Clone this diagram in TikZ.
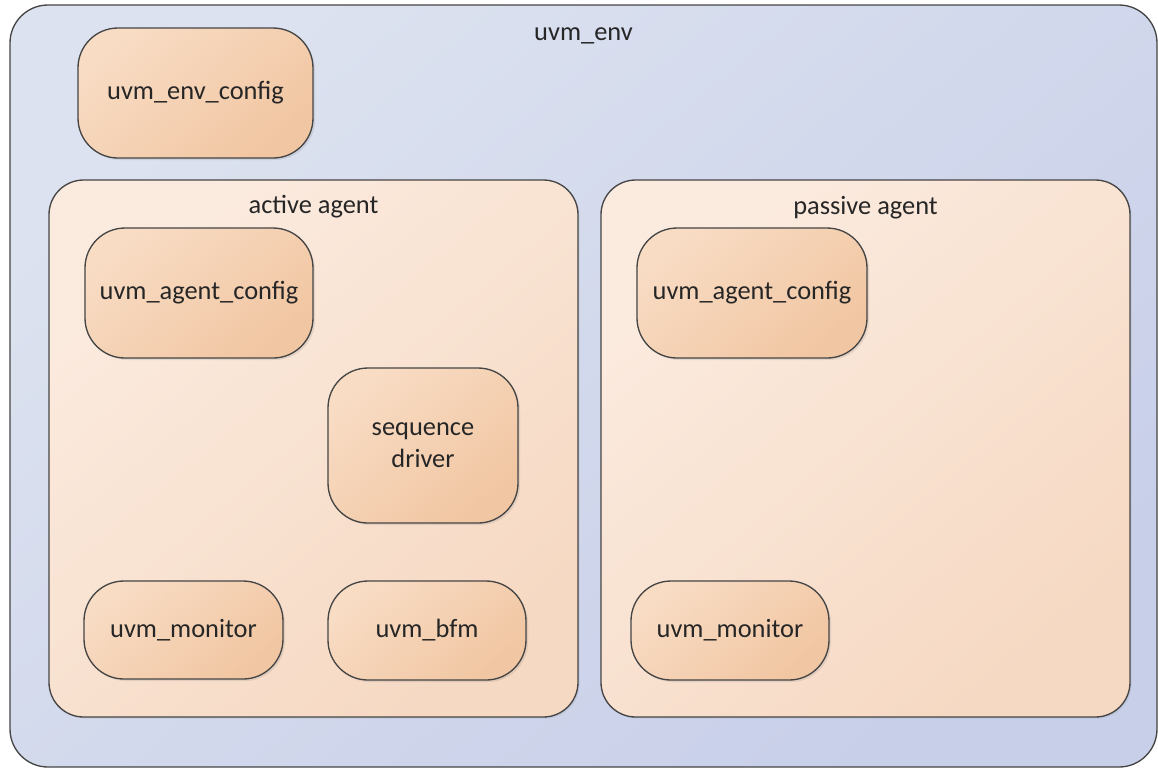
\documentclass[tikz,border=0pt]{standalone}
\usepackage{fontspec}
\setmainfont{Carlito}
\usepackage{tikz}
\usetikzlibrary{shadows}
\definecolor{envtop}{HTML}{DCE2EF}
\definecolor{envbot}{HTML}{C8CFE9}
\definecolor{agenttop}{HTML}{FBEBDF}
\definecolor{agentbot}{HTML}{F6D9C3}
\definecolor{comptop}{HTML}{F8DCC4}
\definecolor{compbot}{HTML}{F1C6A2}
\definecolor{edge}{HTML}{454545}
\definecolor{ink}{HTML}{262626}

\begin{document}
\begin{tikzpicture}[x=0.75pt, y=-0.75pt,
  every node/.style={inner sep=0pt, outer sep=0pt, text=ink,
                     font=\fontsize{19.8pt}{24pt}\selectfont},
  envbox/.style={draw=edge, line width=1pt, rounded corners=28.5pt,
                 top color=envtop, bottom color=envbot, shading angle=40},
  agentbox/.style={draw=edge, line width=1pt, rounded corners=26pt,
                   top color=agenttop, bottom color=agentbot, shading angle=40,
                   drop shadow={shadow xshift=1.2pt, shadow yshift=-1.2pt, opacity=0.15}},
  compbox/.style={draw=edge, line width=1pt, rounded corners=30pt,
                  top color=comptop, bottom color=compbot, shading angle=40,
                  drop shadow={shadow xshift=1.5pt, shadow yshift=-1.5pt, opacity=0.18},
                  align=center},
  title/.style={anchor=base}]

\useasboundingbox (0,0) rectangle (1158,769);

% environment
\node[envbox, minimum width=1147*0.75pt, minimum height=762*0.75pt] (env) at (583.5,386) {};
\node[title] (envlabel) at (583.5,40) {uvm\_env};
\node[compbox, minimum width=235*0.75pt, minimum height=130*0.75pt] (envcfg) at (195.5,93) {uvm\_env\_config};

% active agent
\node[agentbox, minimum width=529*0.75pt, minimum height=537*0.75pt] (active) at (313.5,448.5) {};
\node[title] (activelabel) at (313.5,213) {active agent};
\node[compbox, minimum width=228*0.75pt, minimum height=130*0.75pt] (activecfg) at (199,293) {uvm\_agent\_config};
\node[compbox, minimum width=190*0.75pt, minimum height=155*0.75pt] (seqdrv) at (423,445.5) {sequence\\driver};
\node[compbox, minimum width=199*0.75pt, minimum height=98*0.75pt] (activemon) at (183.5,630) {uvm\_monitor};
\node[compbox, minimum width=198*0.75pt, minimum height=99*0.75pt] (bfm) at (427,630.5) {uvm\_bfm};

% passive agent
\node[agentbox, minimum width=529*0.75pt, minimum height=537*0.75pt] (passive) at (865.5,448.5) {};
\node[title] (passivelabel) at (865.5,214) {passive agent};
\node[compbox, minimum width=230*0.75pt, minimum height=130*0.75pt] (passivecfg) at (752,293) {uvm\_agent\_config};
\node[compbox, minimum width=198*0.75pt, minimum height=99*0.75pt] (passivemon) at (730,630.5) {uvm\_monitor};

\end{tikzpicture}
\end{document}
